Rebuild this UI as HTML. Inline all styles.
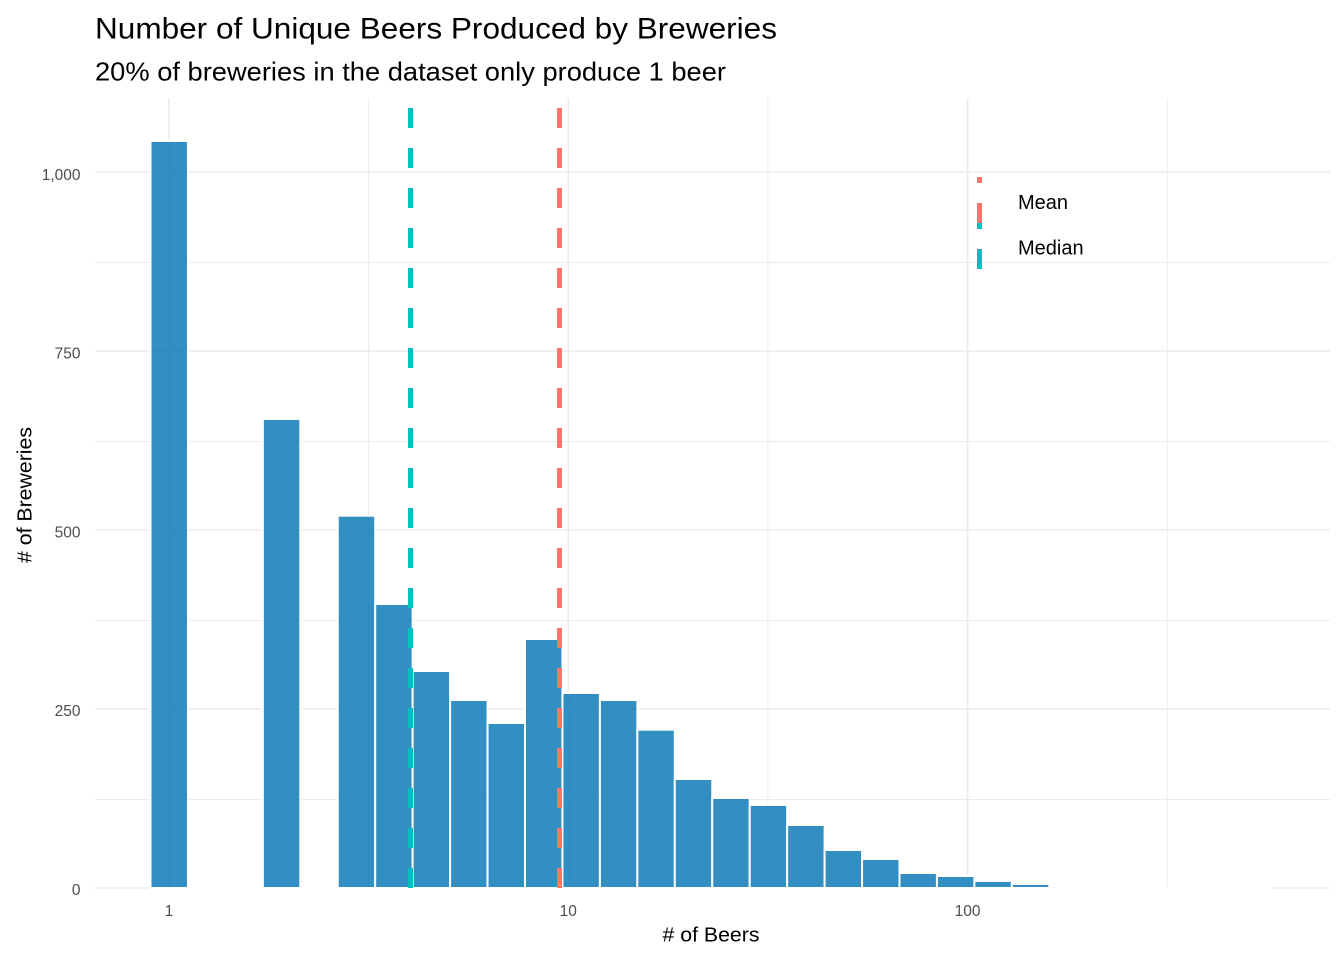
<!DOCTYPE html>
<html>
<head>
<meta charset="utf-8">
<style>
html,body{margin:0;padding:0;background:#fff;}
svg{display:block;}
text{font-family:"Liberation Sans",Arial,sans-serif;}
</style>
</head>
<body>
<svg width="1344" height="960" viewBox="0 0 1344 960" xmlns="http://www.w3.org/2000/svg">
<rect x="0" y="0" width="1344" height="960" fill="#fff"/>
<!-- minor grid horizontal -->
<g stroke="#EBEBEB" stroke-width="0.9" fill="none">
<line x1="95" y1="799.5" x2="1330" y2="799.5"/>
<line x1="95" y1="620.5" x2="1330" y2="620.5"/>
<line x1="95" y1="441.5" x2="1330" y2="441.5"/>
<line x1="95" y1="262.5" x2="1330" y2="262.5"/>
<line x1="368.6" y1="98" x2="368.6" y2="888"/>
<line x1="767.9" y1="98" x2="767.9" y2="888"/>
<line x1="1167.2" y1="98" x2="1167.2" y2="888"/>
</g>
<!-- major grid -->
<g stroke="#EBEBEB" stroke-width="1.6" fill="none">
<line x1="95" y1="888" x2="1330" y2="888"/>
<line x1="95" y1="709" x2="1330" y2="709"/>
<line x1="95" y1="530" x2="1330" y2="530"/>
<line x1="95" y1="351" x2="1330" y2="351"/>
<line x1="95" y1="172" x2="1330" y2="172"/>
<line x1="169" y1="98" x2="169" y2="888"/>
<line x1="568.3" y1="98" x2="568.3" y2="888"/>
<line x1="967.6" y1="98" x2="967.6" y2="888"/>
</g>
<!-- bars -->
<g fill="#0072B2" fill-opacity="0.8" stroke="#fff" stroke-width="2">
<rect x="150.50" y="141" width="37.45" height="747"/>
<rect x="262.85" y="419" width="37.45" height="469"/>
<rect x="337.75" y="515.7" width="37.45" height="372.3"/>
<rect x="375.20" y="604" width="37.45" height="284"/>
<rect x="412.65" y="671" width="37.45" height="217"/>
<rect x="450.10" y="700" width="37.45" height="188"/>
<rect x="487.55" y="723" width="37.45" height="165"/>
<rect x="525.00" y="639" width="37.45" height="249"/>
<rect x="562.45" y="693" width="37.45" height="195"/>
<rect x="599.90" y="700" width="37.45" height="188"/>
<rect x="637.35" y="729.7" width="37.45" height="158.3"/>
<rect x="674.80" y="779" width="37.45" height="109"/>
<rect x="712.25" y="798" width="37.45" height="90"/>
<rect x="749.70" y="805" width="37.45" height="83"/>
<rect x="787.15" y="825" width="37.45" height="63"/>
<rect x="824.60" y="850" width="37.45" height="38"/>
<rect x="862.05" y="859" width="37.45" height="29"/>
<rect x="899.50" y="873" width="37.45" height="15"/>
<rect x="936.95" y="876" width="37.45" height="12"/>
<rect x="974.40" y="881" width="37.45" height="7"/>
<rect x="1011.85" y="884" width="37.45" height="4"/>
</g>
<line x1="150.5" y1="888" x2="1274" y2="888" stroke="#fff" stroke-width="2"/>
<!-- median / mean lines -->
<line x1="410.5" y1="888" x2="410.5" y2="98" stroke="#00BFC4" stroke-width="5" stroke-dasharray="20 20"/>
<line x1="559.5" y1="888" x2="559.5" y2="98" stroke="#F8766D" stroke-width="5" stroke-dasharray="20 20"/>
<!-- legend -->
<line x1="979.5" y1="223" x2="979.5" y2="177" stroke="#F8766D" stroke-width="5" stroke-dasharray="20 20"/>
<line x1="979.5" y1="269" x2="979.5" y2="223" stroke="#00BFC4" stroke-width="5" stroke-dasharray="20 20"/>
<text x="1018" y="209" font-size="20" fill="#000">Mean</text>
<text x="1018" y="254.7" font-size="20" fill="#000">Median</text>
<!-- y tick labels -->
<g font-size="15.5" fill="#4D4D4D" text-anchor="end">
<text x="80.5" y="180">1,000</text>
<text x="80.5" y="358.5">750</text>
<text x="80.5" y="537.3">500</text>
<text x="80.5" y="716">250</text>
<text x="80.5" y="895">0</text>
</g>
<!-- x tick labels -->
<g font-size="15.5" fill="#4D4D4D" text-anchor="middle">
<text x="169" y="916">1</text>
<text x="568.3" y="916">10</text>
<text x="967.6" y="916">100</text>
</g>
<!-- axis titles -->
<text x="662.5" y="941.7" font-size="20" fill="#000" textLength="97" lengthAdjust="spacingAndGlyphs">&#35; of Beers</text>
<text transform="translate(31.5,563) rotate(-90)" x="0" y="0" font-size="20" fill="#000" textLength="136" lengthAdjust="spacingAndGlyphs">&#35; of Breweries</text>
<!-- titles -->
<text x="95" y="38.7" font-size="30" fill="#000" textLength="682" lengthAdjust="spacingAndGlyphs">Number of Unique Beers Produced by Breweries</text>
<text x="95" y="80.7" font-size="26" fill="#000" textLength="631" lengthAdjust="spacingAndGlyphs">20% of breweries in the dataset only produce 1 beer</text>
</svg>
</body>
</html>
